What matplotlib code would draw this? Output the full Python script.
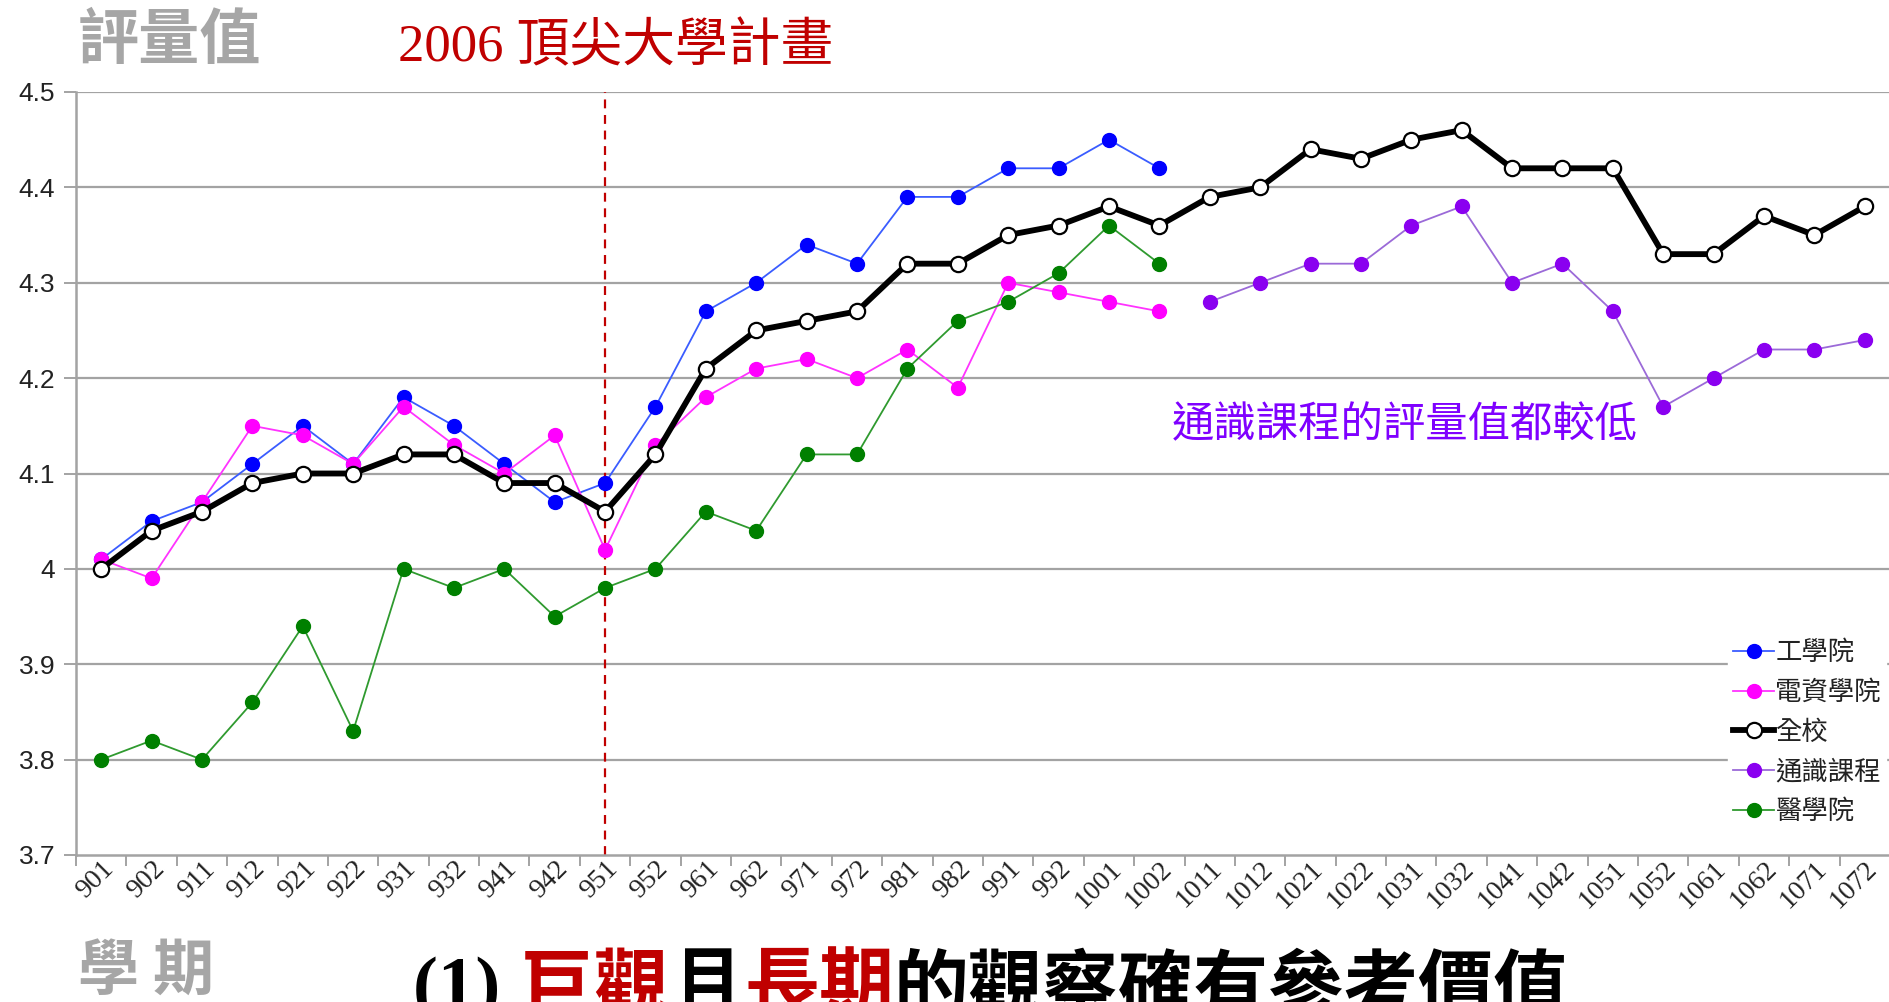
import matplotlib
matplotlib.use('Agg')
import matplotlib.pyplot as plt
import matplotlib.transforms as mtransforms
from matplotlib.ticker import FixedLocator
import numpy as np

# ---------------- data ----------------
semesters = ['901', '902', '911', '912', '921', '922', '931', '932', '941', '942',
             '951', '952', '961', '962', '971', '972', '981', '982', '991', '992',
             '1001', '1002', '1011', '1012', '1021', '1022', '1031', '1032', '1041', '1042',
             '1051', '1052', '1061', '1062', '1071', '1072']

# 工學院 (901 - 1002)
eng = [4.01, 4.05, 4.07, 4.11, 4.15, 4.11, 4.18, 4.15, 4.11, 4.07,
       4.09, 4.17, 4.27, 4.30, 4.34, 4.32, 4.39, 4.39, 4.42, 4.42,
       4.45, 4.42]
# 電資學院 (901 - 1002)
eecs = [4.01, 3.99, 4.07, 4.15, 4.14, 4.11, 4.17, 4.13, 4.10, 4.14,
        4.02, 4.13, 4.18, 4.21, 4.22, 4.20, 4.23, 4.19, 4.30, 4.29,
        4.28, 4.27]
# 全校 (901 - 1072)
school = [4.00, 4.04, 4.06, 4.09, 4.10, 4.10, 4.12, 4.12, 4.09, 4.09,
          4.06, 4.12, 4.21, 4.25, 4.26, 4.27, 4.32, 4.32, 4.35, 4.36,
          4.38, 4.36, 4.39, 4.40, 4.44, 4.43, 4.45, 4.46, 4.42, 4.42,
          4.42, 4.33, 4.33, 4.37, 4.35, 4.38]
# 通識課程 (1011 - 1072)
gened = [4.28, 4.30, 4.32, 4.32, 4.36, 4.38, 4.30, 4.32, 4.27, 4.17,
         4.20, 4.23, 4.23, 4.24]
# 醫學院 (901 - 1002)
med = [3.80, 3.82, 3.80, 3.86, 3.94, 3.83, 4.00, 3.98, 4.00, 3.95,
       3.98, 4.00, 4.06, 4.04, 4.12, 4.12, 4.21, 4.26, 4.28, 4.31,
       4.36, 4.32]

y_ticks = [3.7, 3.8, 3.9, 4.0, 4.1, 4.2, 4.3, 4.4, 4.5]
y_labels = ['3.7', '3.8', '3.9', '4', '4.1', '4.2', '4.3', '4.4', '4.5']

series_names = ['工學院', '電資學院', '全校', '通識課程', '醫學院']
project_start = '951'
project_label = '2006 頂尖大學計畫'
note_text = '通識課程的評量值都較低'
y_title = '評量值'
x_title = '學 期'
bottom_pieces = [('(1) ', 'black'), ('巨觀', '#c00000'), ('且', 'black'),
                 ('長期', '#c00000'), ('的觀察確有參考價值', 'black')]

# ---------------- figure ----------------
W, H = 1890, 1002
fig = plt.figure(figsize=(W / 100, H / 100), dpi=100)
fig.patch.set_facecolor('white')

ax_left, ax_right, ax_top, ax_bot = 76, 1890, 92, 855
ax = fig.add_axes([ax_left / W, 1 - ax_bot / H, (ax_right - ax_left) / W, (ax_bot - ax_top) / H])

cjk = ['Noto Sans CJK TC', 'DejaVu Sans']
serif_cjk = ['Liberation Serif', 'Noto Sans CJK TC']

n = len(semesters)
x_all = np.arange(n)
i_start_gened = semesters.index('1011')
x_early = x_all[:len(eng)]
x_gened = x_all[i_start_gened:i_start_gened + len(gened)]

grid_c = '#a3a3a3'
for yv in y_ticks[1:]:
    ax.axhline(yv, color=grid_c, lw=1.6, zorder=1)

ms = 10
l_eng, = ax.plot(x_early, eng, color='#3a5cff', lw=1.3, marker='o', ms=ms,
                 mfc='#0000ff', mec='#0000ff', zorder=3, label=series_names[0])
l_eecs, = ax.plot(x_early, eecs, color='#ff33ff', lw=1.3, marker='o', ms=ms,
                  mfc='#ff00ff', mec='#ff00ff', zorder=4, label=series_names[1])
l_all, = ax.plot(x_all, school, color='black', lw=4.2, marker='o', ms=11,
                 mfc='white', mec='black', mew=1.6, zorder=5, label=series_names[2])
l_gen, = ax.plot(x_gened, gened, color='#9b6ad8', lw=1.3, marker='o', ms=ms,
                 mfc='#8a00f0', mec='#8a00f0', zorder=6, label=series_names[3])
l_med, = ax.plot(x_early, med, color='#2f9a2f', lw=1.3, marker='o', ms=ms,
                 mfc='#008000', mec='#008000', zorder=7, label=series_names[4])

ax.axvline(semesters.index(project_start), color='#c00000', lw=1.6,
           ls=(0, (4, 3)), zorder=2)

ax.set_xlim(-0.5, n - 0.5)
ax.set_ylim(y_ticks[0], y_ticks[-1])
ax.set_yticks(y_ticks)
ax.set_yticklabels(y_labels, family='Liberation Sans', fontsize=19, color='#222222')
ax.set_xticks(x_all)
ax.set_xticklabels(semesters, rotation=45, ha='right', va='top',
                   rotation_mode='anchor', family='Liberation Serif',
                   fontsize=20, color='#222222')
offset = mtransforms.ScaledTranslation(7 / 100, 0, fig.dpi_scale_trans)
for lab in ax.get_xticklabels():
    lab.set_transform(lab.get_transform() + offset)
ax.xaxis.set_minor_locator(FixedLocator(np.arange(-0.5, n, 1.0)))
ax.tick_params(axis='x', which='major', length=0, pad=1)
ax.tick_params(axis='x', which='minor', length=8, width=1.4, color=grid_c, direction='out')
ax.tick_params(axis='y', length=9, width=1.4, color=grid_c, direction='out', pad=6)
for s in ['top', 'right']:
    ax.spines[s].set_visible(False)
for s in ['left', 'bottom']:
    ax.spines[s].set_color(grid_c)
    ax.spines[s].set_linewidth(1.8)

# legend
leg = fig.legend(handles=[l_eng, l_eecs, l_all, l_gen, l_med],
                 loc='upper left', bbox_to_anchor=(1728 / W, 1 - 634 / H),
                 frameon=True, fancybox=False, framealpha=1, edgecolor='white',
                 prop={'family': cjk, 'size': 19}, handlelength=1.55,
                 handletextpad=0.05, labelspacing=0.48, borderpad=0.2,
                 borderaxespad=0)
for t in leg.get_texts():
    t.set_color('#222222')

# texts
fig.text(78 / W, 1 - 41 / H, y_title, family=cjk, fontsize=44, fontweight='bold',
         color='#a6a6a6', ha='left', va='center')
fig.text(398 / W, 1 - 48 / H, project_label, family=serif_cjk, fontsize=38,
         color='#c00000', ha='left', va='center')
fig.text(78 / W, 1 - 972 / H, x_title, family=cjk, fontsize=44, fontweight='bold',
         color='#a6a6a6', ha='left', va='center')
fig.text(1172 / W, 1 - 425 / H, note_text, family=cjk, fontsize=30.5,
         color='#7f00ff', ha='left', va='center')

renderer = fig.canvas.get_renderer()
xpos = 413 / W
for s, c in bottom_pieces:
    t = fig.text(xpos, 1 - 956 / H, s, family=serif_cjk, fontsize=54,
                 fontweight='bold', color=c, ha='left', va='top')
    bb = t.get_window_extent(renderer)
    xpos = fig.transFigure.inverted().transform((bb.x1, bb.y0))[0]

fig.savefig('out.png', dpi=100, facecolor='white')
